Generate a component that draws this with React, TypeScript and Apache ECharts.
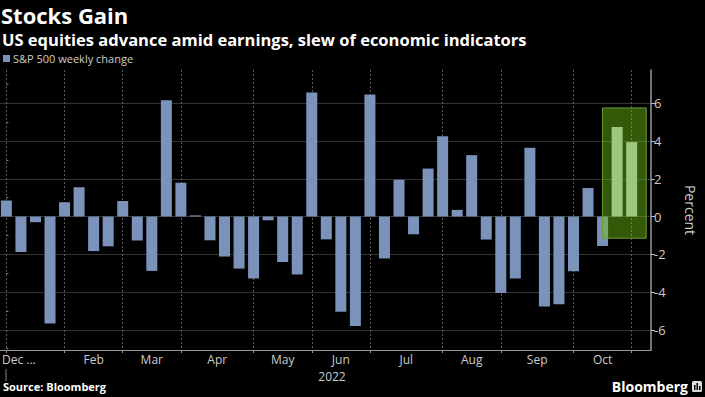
import React, { useEffect, useRef } from "react";
import * as echarts from "echarts";

// Week-ending dates (Fridays) and S&P 500 weekly % change
const weekEnding: string[] = [
  "2021-12-31",
  "2022-01-07", "2022-01-14", "2022-01-21", "2022-01-28",
  "2022-02-04", "2022-02-11", "2022-02-18", "2022-02-25",
  "2022-03-04", "2022-03-11", "2022-03-18", "2022-03-25",
  "2022-04-01", "2022-04-08", "2022-04-14", "2022-04-22", "2022-04-29",
  "2022-05-06", "2022-05-13", "2022-05-20", "2022-05-27",
  "2022-06-03", "2022-06-10", "2022-06-17", "2022-06-24",
  "2022-07-01", "2022-07-08", "2022-07-15", "2022-07-22", "2022-07-29",
  "2022-08-05", "2022-08-12", "2022-08-19", "2022-08-26",
  "2022-09-02", "2022-09-09", "2022-09-16", "2022-09-23", "2022-09-30",
  "2022-10-07", "2022-10-14", "2022-10-21", "2022-10-28",
];

const weeklyChange: number[] = [
  0.85,
  -1.88, -0.3, -5.67, 0.76,
  1.55, -1.83, -1.58, 0.82,
  -1.27, -2.88, 6.16, 1.79,
  0.06, -1.26, -2.12, -2.76, -3.28,
  -0.2, -2.41, -3.07, 6.57,
  -1.21, -5.05, -5.8, 6.46,
  -2.22, 1.95, -0.94, 2.54, 4.25,
  0.35, 3.25, -1.22, -4.05,
  -3.28, 3.64, -4.77, -4.65, -2.9,
  1.51, -1.56, 4.74, 3.94,
];

const yMajorTicks: number[] = [-6, -4, -2, 0, 2, 4, 6];
const yMinorTicks: number[] = [-7, -5, -3, -1, 1, 3, 5, 7];
const monthNames: string[] = ["Jan", "Feb", "Mar", "Apr", "May", "Jun", "Jul", "Aug", "Sep", "Oct", "Nov", "Dec"];
const firstMonthLabel = "Dec ...";
const yearLabel = "2022";
const seriesName = "S&P 500 weekly change";
// highlight box: from week index (mid) to end, percent range
const highlightWeekRange: number[] = [41, 44];
const highlightPercentRange: number[] = [-1.15, 5.75];

const monthOf = (d: string) => Number(d.slice(5, 7));

export default function App() {
  const ref = useRef<HTMLDivElement>(null);

  useEffect(() => {
    document.body.style.margin = "0";
    document.body.style.background = "#000";
    if (!ref.current) return;
    const chart = echarts.init(ref.current, undefined, { renderer: "svg" });

    // month boundaries = last week of each month
    const boundaries: number[] = [];
    weekEnding.forEach((d, i) => {
      if (i === weekEnding.length - 1 || monthOf(d) !== monthOf(weekEnding[i + 1])) boundaries.push(i);
    });
    const labelPos: number[] = [];
    const labelMap: Record<string, string> = {};
    for (let k = 1; k < boundaries.length - 1; k++) {
      const mid = (boundaries[k] + boundaries[k + 1]) / 2;
      labelPos.push(mid);
      labelMap[mid.toFixed(2)] = monthNames[monthOf(weekEnding[boundaries[k + 1]]) - 1];
    }

    const barData = weeklyChange.map((v, i) => {
      const inBox = i > highlightWeekRange[0];
      return {
        value: [i, v],
        itemStyle: inBox ? { color: "#bfc6d6" } : undefined,
      };
    });

    const FONT = "'Open Sans', 'Noto Sans', sans-serif";

    chart.setOption({
      animation: false,
      backgroundColor: "#000",
      textStyle: { fontFamily: FONT },
      title: [
        {
          text: "Stocks Gain",
          left: 1,
          top: 4,
          padding: 0,
          textStyle: { color: "#fff", fontSize: 22, lineHeight: 22, fontWeight: "bold", fontFamily: FONT },
        },
        {
          text: "US equities advance amid earnings, slew of economic indicators",
          left: 2,
          top: 30,
          padding: 0,
          textStyle: { color: "#fff", fontSize: 16.5, lineHeight: 18, fontWeight: "bold", fontFamily: FONT },
        },
      ],
      legend: {
        data: [seriesName],
        left: 3,
        top: 53,
        padding: 0,
        itemWidth: 7,
        itemHeight: 7,
        itemGap: 4,
        icon: "rect",
        textStyle: { color: "#ccc", fontSize: 11, fontFamily: FONT, padding: [0, 0, 0, -2] },
      },
      grid: { left: 0, right: 46, top: 70, bottom: 47, containLabel: false },
      xAxis: {
        type: "value",
        min: -0.44,
        max: 44.33,
        axisLine: { show: true, onZero: false, lineStyle: { color: "#999", width: 1 } },
        axisTick: { show: true, customValues: boundaries, length: 3, lineStyle: { color: "#999" } },
        axisLabel: {
          customValues: labelPos,
          formatter: (v: number) => labelMap[v.toFixed(2)] ?? "",
          color: "#ccc",
          fontSize: 12,
          lineHeight: 13,
          margin: 3,
          fontFamily: FONT,
        },
        splitLine: { show: true, lineStyle: { color: "#5c5c5c", type: [2, 2], width: 1 } },
      },
      yAxis: [
        {
          type: "value",
          position: "right",
          min: -7.07,
          max: 7.76,
          axisLine: { show: true, onZero: false, lineStyle: { color: "#999", width: 1.5 } },
          axisTick: { show: true, customValues: yMajorTicks, length: 4, lineStyle: { color: "#bbb" } },
          axisLabel: { customValues: yMajorTicks, color: "#ccc", fontSize: 13, margin: 3, fontFamily: FONT },
          splitLine: { show: true, lineStyle: { color: "#333", width: 1 } },
          name: "Percent",
          nameLocation: "middle",
          nameRotate: -90,
          nameGap: 32,
          nameTextStyle: { color: "#ccc", fontSize: 14, fontFamily: FONT },
        },
        {
          type: "value",
          position: "right",
          min: -7.07,
          max: 7.76,
          axisLine: { show: false },
          axisTick: { show: true, customValues: yMinorTicks, length: 2, lineStyle: { color: "#888" } },
          axisLabel: { show: false },
          splitLine: { show: false },
        },
      ],
      series: [
        {
          name: seriesName,
          type: "bar",
          barWidth: 11,
          itemStyle: { color: "#7b93bb" },
          data: barData,
          markArea: {
            silent: true,
            z: 10,
            itemStyle: { color: "rgba(115,200,20,0.45)", borderColor: "#6d9d35", borderWidth: 1 },
            data: [
              [
                { coord: [highlightWeekRange[0], highlightPercentRange[1]] },
                { coord: [highlightWeekRange[1], highlightPercentRange[0]] },
              ],
            ],
          },
        },
      ],
      graphic: [
        {
          type: "text",
          left: 2,
          top: 353,
          style: { text: firstMonthLabel, fill: "#ccc", fontSize: 12, fontFamily: FONT },
        },
        {
          type: "line",
          shape: { x1: 6, y1: 369, x2: 6, y2: 381 },
          style: { stroke: "#888", lineWidth: 1 },
        },
        {
          type: "text",
          x: 332,
          y: 370,
          style: { text: yearLabel, fill: "#ccc", fontSize: 12, fontFamily: FONT, align: "center" },
        },
        {
          type: "text",
          left: 3,
          top: 381,
          style: { text: "Source: Bloomberg", fill: "#fff", fontSize: 11, fontWeight: "bold", fontFamily: FONT },
        },
        {
          type: "text",
          x: 688,
          y: 379,
          style: { text: "Bloomberg", fill: "#fff", fontSize: 14, fontWeight: "bold", fontFamily: FONT, align: "right" },
        },
        {
          type: "group",
          x: 692,
          y: 381,
          children: [
            { type: "rect", shape: { x: 0, y: 0, width: 10, height: 11, r: 1.5 }, style: { fill: "#ddd" } },
            { type: "rect", shape: { x: 2, y: 4, width: 1.5, height: 5 }, style: { fill: "#000" } },
            { type: "rect", shape: { x: 4.5, y: 2, width: 1.5, height: 7 }, style: { fill: "#000" } },
            { type: "rect", shape: { x: 7, y: 5, width: 1.5, height: 4 }, style: { fill: "#000" } },
          ],
        },
      ],
    });

    return () => chart.dispose();
  }, []);

  return (
    <div
      ref={ref}
      style={{ position: "absolute", left: 0, top: 0, width: 705, height: 397, background: "#000" }}
    />
  );
}
